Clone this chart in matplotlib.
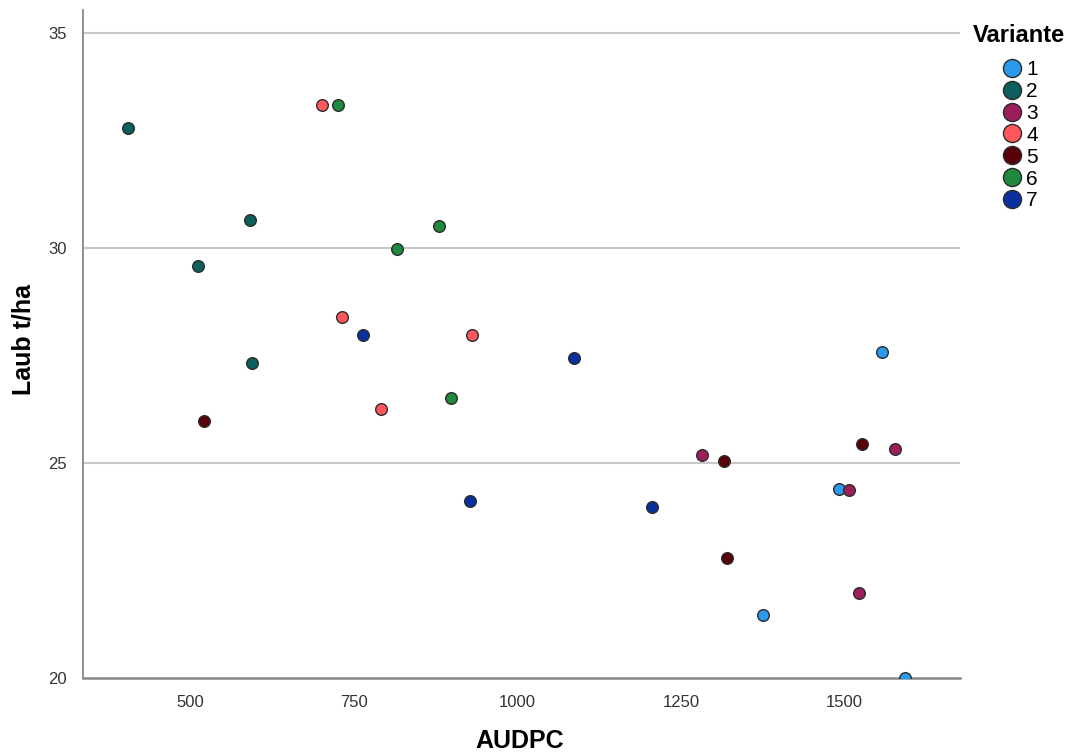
import matplotlib
matplotlib.use("Agg")
import matplotlib.pyplot as plt
from matplotlib.lines import Line2D

#   Values
variants = ["1", "2", "3", "4", "5", "6", "7"]
colors = ["#2a9bec", "#0b5f5d", "#9c1f5c", "#ff575c", "#5a0009", "#1f8a3b", "#0a2f9e"]

audpc = {
    "1": [1557, 1491, 1375, 1592],
    "2": [406, 592, 513, 595],
    "3": [1282, 1576, 1507, 1522],
    "4": [702, 733, 792, 931],
    "5": [521, 1315, 1320, 1526],
    "6": [727, 881, 817, 899],
    "7": [765, 1087, 928, 1206],
}
laub = {
    "1": [27.58, 24.40, 21.47, 20.00],
    "2": [32.79, 30.65, 29.58, 27.33],
    "3": [25.19, 25.33, 24.37, 21.98],
    "4": [33.33, 28.40, 26.26, 27.98],
    "5": [25.98, 25.05, 22.79, 25.44],
    "6": [33.33, 30.51, 29.98, 26.51],
    "7": [27.98, 27.44, 24.12, 23.98],
}

xticks = [500, 750, 1000, 1250, 1500]
yticks = [20, 25, 30, 35]

plt.rcParams['font.family'] = ['Liberation Sans Narrow', 'Liberation Sans', 'DejaVu Sans']

fig = plt.figure(figsize=(10.7, 7.55), dpi=100)
ax = fig.add_axes([0.0776, 0.102, 0.8196, 0.8848])

#   Gridlines
for yv in yticks[1:]:
    ax.axhline(yv, color="#c8c8c8", lw=1.5, zorder=1)

for v, c in zip(variants, colors):
    ax.scatter(audpc[v], laub[v], s=70, color=c, edgecolors="#2b2b2b",
               linewidths=1.0, zorder=3)

ax.set_xlim(337, 1676)
ax.set_ylim(20, 35.53)
ax.set_xticks(xticks)
ax.set_yticks(yticks)
ax.tick_params(axis="both", length=0, labelsize=12, colors="#333333")
ax.tick_params(axis="x", pad=12)
ax.tick_params(axis="y", pad=12)

for s in ["top", "right"]:
    ax.spines[s].set_visible(False)
ax.spines["left"].set_color("#888888")
ax.spines["bottom"].set_color("#888888")
ax.spines["left"].set_linewidth(1.3)
ax.spines["bottom"].set_linewidth(1.8)

ax.set_xlabel("AUDPC", fontsize=18, fontweight="bold")
ax.set_ylabel("Laub t/ha", fontsize=18, fontweight="bold")
ax.xaxis.set_label_coords(0.498, -0.076)
ax.yaxis.set_label_coords(-0.054, 0.506)

#   Legend
fig.text(1065 / 1070, 1 - 35 / 755, "Variante", ha="right", va="center",
         family="Liberation Sans", fontweight="bold", fontsize=17)
handles = [Line2D([0], [0], marker="o", ls="", markersize=13, markerfacecolor=c,
                  markeredgecolor="#2b2b2b", markeredgewidth=1.0) for c in colors]
fig.legend(handles, variants, loc="upper left",
           bbox_to_anchor=(995 / 1070, 1 - 60 / 755), frameon=False,
           prop={"family": "Liberation Sans", "size": 15},
           handletextpad=-0.1, labelspacing=0.14, borderaxespad=0,
           borderpad=0, handlelength=1.6)

fig.savefig("out.png", dpi=100)
